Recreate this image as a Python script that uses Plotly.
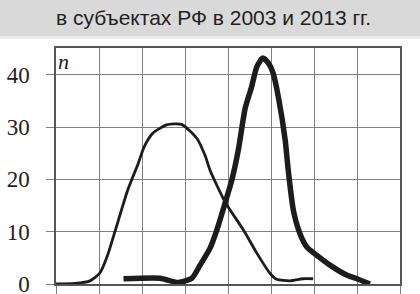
import plotly.graph_objects as go

# Data (x in grid units, y = n)
x_2003 = [0.0, 0.44, 0.79, 1.02, 1.20, 1.37, 1.67, 1.91, 2.05, 2.25, 2.57, 2.92, 3.27, 3.47, 3.58, 3.93, 4.36, 4.67, 4.98, 5.13, 5.44, 5.74, 5.98]
n_2003 = [0.0, 0.1, 0.6, 2.1, 5.5, 10.0, 18.0, 23.0, 26.2, 28.8, 30.4, 30.5, 27.9, 24.5, 21.8, 15.7, 10.3, 5.9, 2.0, 0.9, 0.6, 1.0, 1.0]

x_2013 = [1.57, 2.42, 2.84, 3.16, 3.35, 3.58, 3.74, 3.93, 4.09, 4.24, 4.40, 4.55, 4.67, 4.81, 4.94, 5.05, 5.17, 5.33, 5.40, 5.52, 5.67, 5.83, 6.06, 6.37, 6.76, 7.03, 7.30]
n_2013 = [1.0, 1.1, 0.3, 1.1, 3.6, 6.8, 10.3, 15.4, 19.9, 25.6, 33.6, 37.7, 41.5, 43.2, 42.2, 40.3, 35.8, 27.5, 21.8, 14.1, 9.7, 7.1, 5.5, 3.6, 1.7, 0.9, 0.0]

y_ticks = [0, 10, 20, 30, 40]
title_text = "в субъектах РФ в 2003 и 2013 гг."

W, H = 420, 294
L, R, T, B = 56, 20, 48, 10
ph = H - T - B
pw = W - L - R

def py(pix):
    return 1 + (T - pix) / ph

fig = go.Figure()
fig.add_trace(go.Scatter(x=x_2003, y=n_2003, mode="lines",
                         line=dict(color="#1c1c1c", width=2.8, shape="spline", smoothing=0.6),
                         showlegend=False, hoverinfo="skip"))
fig.add_trace(go.Scatter(x=x_2013, y=n_2013, mode="lines",
                         line=dict(color="#1c1c1c", width=5.5, shape="spline", smoothing=0.6),
                         showlegend=False, hoverinfo="skip"))

fig.update_layout(
    width=W, height=H,
    margin=dict(l=L, r=R, t=T, b=B, autoexpand=False),
    paper_bgcolor="white", plot_bgcolor="white",
    xaxis=dict(range=[0, 8], dtick=1, tick0=0, showgrid=True, gridcolor="#808080", gridwidth=1,
               showticklabels=False, ticks="outside", ticklen=10, tickcolor="#808080",
               showline=True, linecolor="#555555", linewidth=1.5, mirror=True, zeroline=False),
    yaxis=dict(range=[0, 45.1], tickvals=y_ticks, ticktext=[str(v) for v in y_ticks],
               showgrid=True, gridcolor="#808080", gridwidth=1,
               ticks="outside", ticklen=8, tickcolor="#808080", ticklabelstandoff=12,
               ticklabeloverflow="allow",
               tickfont=dict(family="Liberation Serif", size=23, color="#222222"),
               showline=True, linecolor="#555555", linewidth=1.5, mirror=True, zeroline=False),
    shapes=[
        dict(type="rect", xref="paper", yref="paper", x0=-L / pw, x1=1 + R / pw,
             y0=py(36), y1=py(0), fillcolor="#d9d9d9", line=dict(width=0), layer="below"),
        dict(type="rect", xref="paper", yref="paper", x0=-L / pw, x1=1 + R / pw,
             y0=py(39), y1=py(36), fillcolor="#ececec", line=dict(width=0), layer="below"),
    ],
    annotations=[
        dict(text=title_text, xref="paper", yref="paper", x=(213 - L) / pw, y=py(18),
             xanchor="center", yanchor="middle", showarrow=False,
             font=dict(family="Liberation Sans", size=21, color="#222222")),
        dict(text="<i>n</i>", xref="paper", yref="paper", x=0.0, y=py(47),
             xanchor="left", yanchor="top", showarrow=False,
             font=dict(family="Liberation Serif", size=22, color="#222222")),
    ],
)

fig.write_html("out.html", config={"displayModeBar": False},
               post_script="document.body.style.margin='0';")
